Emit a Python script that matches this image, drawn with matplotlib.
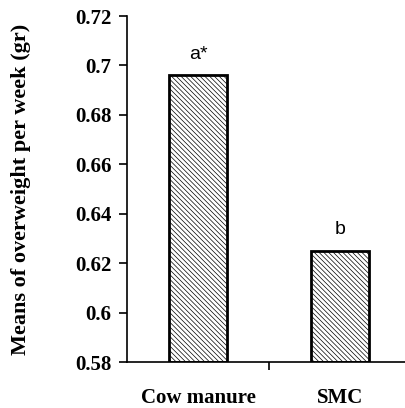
import matplotlib
matplotlib.use("Agg")
import matplotlib.pyplot as plt

categories = ["Cow manure", "SMC"]
means = [0.696, 0.625]
letters = ["a*", "b"]
yticks = [0.58, 0.6, 0.62, 0.64, 0.66, 0.68, 0.7, 0.72]
ytick_labels = ["0.58", "0.6", "0.62", "0.64", "0.66", "0.68", "0.7", "0.72"]

plt.rcParams["hatch.linewidth"] = 0.5
serif = "Liberation Serif"

fig = plt.figure(figsize=(4.06, 4.08), dpi=100)
ax = fig.add_axes([127 / 406, 1 - 362 / 408, 1 - 127 / 406, (362 - 16) / 408])

x = range(len(categories))
ax.bar(x, [m - 0.58 for m in means], bottom=0.58, width=0.41,
       color="white", edgecolor="black", linewidth=2, hatch="\\" * 7)

# letras de significancia sobre cada barra
for i, (m, lab) in enumerate(zip(means, letters)):
    ax.text(i, m + 0.0068, lab, ha="center", va="baseline", fontsize=14,
            family="Liberation Sans")

ax.set_ylim(0.58, 0.72)
ax.set_xlim(-0.5, 1.465)
ax.set_yticks(yticks)
ax.set_yticklabels(ytick_labels, family=serif, fontweight="bold", fontsize=15)
ax.set_xticks([0.5])
ax.set_xticklabels([""])
ax.tick_params(axis="y", direction="out", length=6, width=1.2, pad=5)
ax.tick_params(axis="x", direction="out", length=6, width=1.2)
for i, c in enumerate(categories):
    ax.text(i, 0.58 - 0.0145, c, ha="center", va="center", family=serif,
            fontweight="bold", fontsize=15)

ax.spines["top"].set_visible(False)
ax.spines["right"].set_visible(False)
ax.spines["left"].set_linewidth(1.2)
ax.spines["bottom"].set_linewidth(1.2)

ax.set_ylabel("Means of overweight per week (gr)", family=serif,
              fontweight="bold", fontsize=16, labelpad=32)

fig.savefig("out.png", dpi=100)
plt.close(fig)
